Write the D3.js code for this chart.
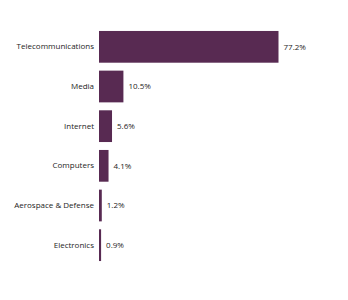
<!DOCTYPE html>
<html>
<head>
<meta charset="utf-8">
<script src="https://cdn.jsdelivr.net/npm/d3@7"></script>
<style>
  body { margin: 0; background: #fff; }
  text { font-family: "Open Sans", "Noto Sans", sans-serif; fill: #252423; }
</style>
</head>
<body>
<div id="chart"></div>
<script>
// sector weights (%)
var sectors = ["Telecommunications", "Media", "Internet", "Computers", "Aerospace & Defense", "Electronics"];
var weights = [77.2, 10.5, 5.6, 4.1, 1.2, 0.9];

var svgWidth = 348, svgHeight = 300;
var margin = { top: 27, left: 99, right: 69, bottom: 35 };

var svg = d3.select("#chart").append("svg")
  .attr("width", svgWidth)
  .attr("height", svgHeight);

var chartGroup = svg.append("g")
  .attr("transform", `translate(${margin.left}, ${margin.top})`);

var xScale = d3.scaleLinear()
  .domain([0, 77.2])
  .range([0, 179.5]);

var yScale = d3.scaleBand()
  .domain(sectors)
  .range([0, 238])
  .paddingInner(0.2)
  .paddingOuter(0.1);

// category axis, no line or ticks
var yAxis = d3.axisLeft(yScale).tickSize(0).tickPadding(5);
var yAxisGroup = chartGroup.append("g").call(yAxis);
yAxisGroup.select(".domain").remove();
yAxisGroup.selectAll("text")
  .style("font-family", "'Open Sans', sans-serif")
  .style("font-size", "8px")
  .style("fill", "#252423");

var data = sectors.map((s, i) => ({ sector: s, value: weights[i] }));

chartGroup.selectAll("rect")
  .data(data)
  .enter()
  .append("rect")
  .attr("x", 0)
  .attr("y", d => yScale(d.sector))
  .attr("width", d => xScale(d.value))
  .attr("height", yScale.bandwidth())
  .attr("fill", "#582a52");

chartGroup.selectAll(".valueLabel")
  .data(data)
  .enter()
  .append("text")
  .attr("class", "valueLabel")
  .attr("x", d => xScale(d.value) + 5)
  .attr("y", d => yScale(d.sector) + yScale.bandwidth() / 2)
  .attr("dy", "0.35em")
  .style("font-size", "8px")
  .text(d => d.value.toFixed(1) + "%");
</script>
</body>
</html>
